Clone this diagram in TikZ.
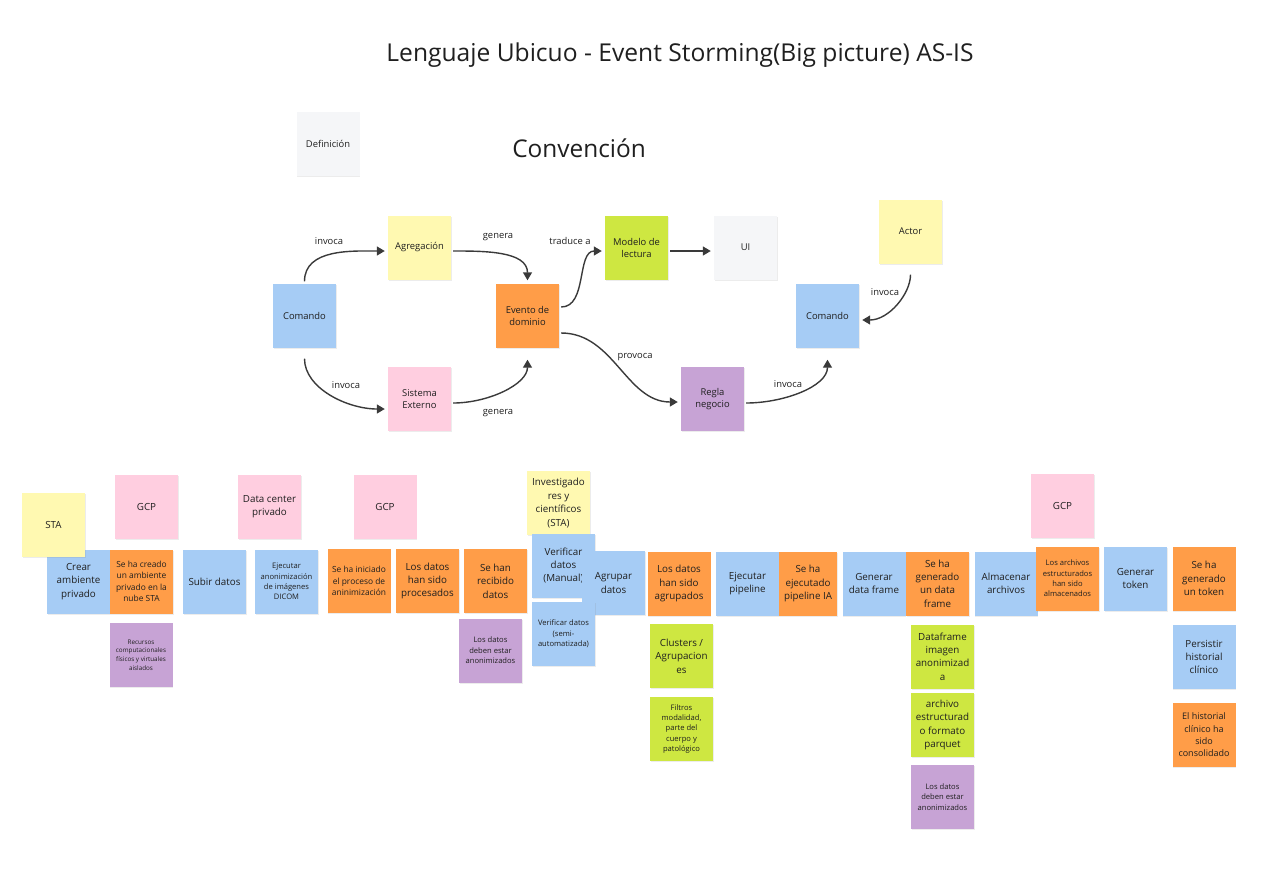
\documentclass[tikz,border=0pt]{standalone}
\usepackage{fontspec}
\setmainfont{Open Sans}
\usepackage{tikz}
\usetikzlibrary{arrows.meta,shadows}
\definecolor{ink}{HTML}{1F1F1F}
\definecolor{wire}{HTML}{3A3A3A}
\definecolor{cmdblue}{HTML}{A6CCF5}
\definecolor{actyellow}{HTML}{FFF9B1}
\definecolor{evtorange}{HTML}{FF9D48}
\definecolor{extpink}{HTML}{FFCEE0}
\definecolor{readgreen}{HTML}{CEE741}
\definecolor{rulepurple}{HTML}{C7A3D5}
\definecolor{uigrey}{HTML}{F5F6F8}
\newcommand{\fbig}{\fontsize{9.8}{13.4}\selectfont}
\newcommand{\fmid}{\fontsize{8.4}{11.4}\selectfont}
\newcommand{\fsml}{\fontsize{7.6}{10.4}\selectfont}
\newcommand{\ftiny}{\fontsize{6.3}{8.6}\selectfont}
\newcommand{\fhist}{\fontsize{9}{12.3}\selectfont}
\newcommand{\flbl}{\fontsize{9.4}{12}\selectfont}
\tikzset{
  note/.style={minimum width=63pt, minimum height=64pt, inner sep=0pt, align=center,
    text=ink, font=\fbig, drop shadow={shadow xshift=0.6pt, shadow yshift=-1pt, opacity=0.15}},
  cmdnote/.style={note, fill=cmdblue},
  actnote/.style={note, fill=actyellow},
  evtnote/.style={note, fill=evtorange},
  extnote/.style={note, fill=extpink},
  readnote/.style={note, fill=readgreen},
  rulenote/.style={note, fill=rulepurple},
  uinote/.style={note, fill=uigrey},
  lbl/.style={inner sep=0pt, text=ink, font=\flbl},
  flow/.style={color=wire, line width=1.4pt, -{Triangle[length=8pt,width=9pt]},
    shorten <=2pt, shorten >=3pt}
}

\begin{document}
\begin{tikzpicture}[x=1pt, y=-1pt]
\useasboundingbox (0,0) rectangle (1270,871);

\node[text=ink, font=\fontsize{24.6}{29}\selectfont] (title) at (680,55.5)
  {Lenguaje Ubicuo - Event Storming(Big picture) AS-IS};
\node[text=ink, font=\fontsize{24.4}{28}\selectfont] (conv) at (579,148) {Convención};

% convencion
\node[uinote, font=\flbl] (def) at (328,143.5) {Definición};
\node[cmdnote, font=\flbl] (cmdA) at (304.5,315.5) {Comando};
\node[actnote, font=\flbl] (agg) at (419.5,247.5) {Agregación};
\node[evtnote, font=\flbl] (evt) at (527.5,315.5) {Evento de\\dominio};
\node[extnote, font=\flbl] (ext) at (419.5,399) {Sistema\\Externo};
\node[readnote, font=\flbl] (model) at (636.5,247.5) {Modelo de\\lectura};
\node[uinote, font=\flbl] (ui) at (745.5,247.5) {UI};
\node[actnote, font=\flbl] (actor) at (910.5,231.5) {Actor};
\node[cmdnote, font=\flbl] (cmdB) at (827.5,315.5) {Comando};
\node[rulenote, font=\flbl] (rule) at (712.5,399) {Regla\\negocio};

\path[flow]
  (cmdA.north) edge[out=90, in=180] ([yshift=-3.5pt]agg.west)
  ([yshift=-3.5pt]agg.east) edge[out=0, in=90] (evt.north)
  (cmdA.south) edge[out=-90, in=180, shorten <=11pt] ([yshift=-10pt]ext.west)
  ([yshift=-4pt]ext.east) edge[out=0, in=-90, shorten >=12pt] (evt.south)
  ([yshift=8.5pt]evt.east) edge[out=0, in=180] ([yshift=-3.5pt]model.west)
  ([yshift=-3.5pt]model.east) edge ([yshift=-3.5pt]ui.west)
  ([yshift=-17.5pt]evt.east) edge[out=0, in=180] ([yshift=-3pt]rule.west)
  ([yshift=-4pt]rule.east) edge[out=0, in=-90, shorten >=12pt] (cmdB.south)
  (actor.south) edge[out=-90, in=0, shorten <=11pt] ([yshift=-4.5pt]cmdB.east);

\node[lbl] (l-inv1) at (329,241) {invoca};
\node[lbl] (l-gen1) at (498,237) {genera};
\node[lbl] (l-inv2) at (346,385) {invoca};
\node[lbl] (l-gen2) at (498,413) {genera};
\node[lbl] (l-trad) at (570,241) {traduce a};
\node[lbl] (l-prov) at (635,357) {provoca};
\node[lbl] (l-inv3) at (788,384) {invoca};
\node[lbl] (l-inv4) at (885,292) {invoca};

% linea de eventos
\node[extnote] (gcpA) at (146.5,506.5) {GCP};
\node[extnote] (dcp) at (269.5,506.5) {Data center\\privado};
\node[cmdnote] (crear) at (78.5,581.5) {Crear\\ambiente\\privado};
\node[actnote] (sta) at (53.5,525) {STA};
\node[evtnote, font=\fmid] (creado) at (141.5,581.5) {Se ha creado\\un ambiente\\privado en la\\nube STA};
\node[rulenote, font=\ftiny] (recursos) at (141,655) {Recursos\\computacionales\\físicos y virtuales\\aislados};
\node[cmdnote] (subir) at (214.5,581.5) {Subir datos};
\node[cmdnote, font=\fsml] (dicom) at (286.5,581.5) {Ejecutar\\anonimización\\de imágenes\\DICOM};

\node[extnote] (gcpB) at (385,506.5) {GCP};
\node[evtnote, font=\fmid] (iniciado) at (359,581) {Se ha iniciado\\el proceso de\\aninimización};
\node[evtnote] (procesados) at (427.5,581) {Los datos\\han sido\\procesados};
\node[evtnote] (recibido) at (495.5,581) {Se han\\recibido\\datos};
\node[rulenote, font=\fsml] (debenA) at (490.5,650.5) {Los datos\\deben estar\\anonimizados};
\node[actnote] (invest) at (558.5,503) {Investigado\\res y\\científicos\\(STA)};
\node[cmdnote] (vermanual) at (563.5,565.5) {Verificar\\datos\\(Manual)};
\node[cmdnote] (agrupar) at (613.5,583) {Agrupar\\datos};
\node[cmdnote, font=\fsml] (versemi) at (563.5,634) {Verificar datos\\(semi-\\automatizada)};

\node[evtnote] (agrupados) at (679,583.5) {Los datos\\han sido\\agrupados};
\node[readnote] (clusters) at (681.5,656) {Clusters /\\Agrupacion\\es};
\node[readnote, font=\fsml] (filtros) at (681.5,729) {Filtros\\modalidad,\\parte del\\cuerpo y\\patológico};
\node[cmdnote] (pipeline) at (747.5,583.5) {Ejecutar\\pipeline};
\node[evtnote, minimum width=58pt] (pipeIA) at (808,583.5) {Se ha\\ejecutado\\pipeline IA};
\node[cmdnote] (genframe) at (874,583.5) {Generar\\data frame};
\node[evtnote] (frame) at (937.5,583.5) {Se ha\\generado\\un data\\frame};
\node[readnote] (dfimg) at (942.5,656.5) {Dataframe\\imagen\\anonimizad\\a};
\node[readnote] (parquet) at (942.5,725) {archivo\\estructurad\\o formato\\parquet};
\node[rulenote, font=\fsml] (debenB) at (942.5,797) {Los datos\\deben estar\\anonimizados};

\node[extnote] (gcpC) at (1062.5,505.5) {GCP};
\node[cmdnote] (almacenar) at (1006,583.5) {Almacenar\\archivos};
\node[evtnote, font=\fsml] (almacenados) at (1067.5,578.5) {Los archivos\\estructurados\\han sido\\almacenados};
\node[cmdnote] (token) at (1135.5,578.5) {Generar\\token};
\node[evtnote] (tokenok) at (1204,578.5) {Se ha\\generado\\un token};
\node[cmdnote] (persistir) at (1204,657) {Persistir\\historial\\clínico};
\node[evtnote, font=\fhist] (consolidado) at (1204,735) {El historial\\clínico ha\\sido\\consolidado};
\end{tikzpicture}
\end{document}
